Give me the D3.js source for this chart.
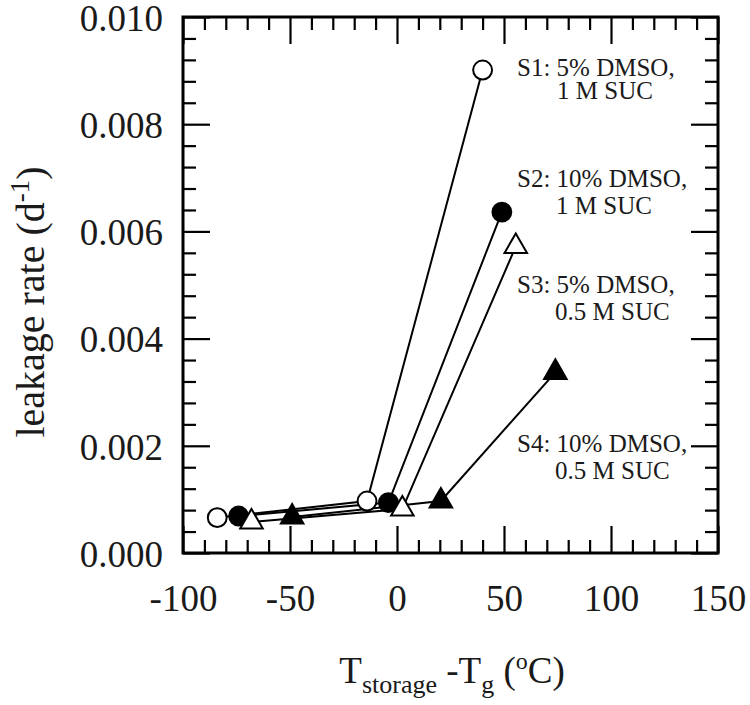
<!DOCTYPE html>
<html>
<head>
<meta charset="utf-8">
<script src="https://cdn.jsdelivr.net/npm/d3@7"></script>
<style>
  html, body { margin: 0; padding: 0; background: #fff; }
  svg { display: block; font-family: "Liberation Serif", "Times New Roman", serif; }
</style>
</head>
<body>
<svg id="chart" width="750" height="705"></svg>
<script>
// ---- data ----
const seriesNames = ["S1", "S2", "S3", "S4"];
const s1X = [-84, -14, 40];
const s1Y = [0.00066, 0.00097, 0.00901];
const s2X = [-74, -4, 49];
const s2Y = [0.00069, 0.00094, 0.00636];
const s3X = [-68, 2.5, 55.5];
const s3Y = [0.00058, 0.00082, 0.00572];
const s4X = [-49, 20.5, 74];
const s4Y = [0.00067, 0.00097, 0.00337];
const labelLine1 = ["S1: 5% DMSO,", "S2: 10% DMSO,", "S3: 5% DMSO,", "S4: 10% DMSO,"];
const labelLine2 = ["1 M SUC", "1 M SUC", "0.5 M SUC", "0.5 M SUC"];
const xMajorTicks = [-100, -50, 0, 50, 100, 150];
const yMajorTicks = [0.000, 0.002, 0.004, 0.006, 0.008, 0.010];

// ---- layout ----
const svg = d3.select("#chart");
const L = 183, R = 718, T = 17, B = 553;
const x = d3.scaleLinear().domain([-100, 150]).range([L, R]);
const y = d3.scaleLinear().domain([0, 0.010]).range([B, T]);

const xMinor = d3.range(-100, 150.001, 10).filter(v => xMajorTicks.indexOf(v) < 0);
const yMinorTicks = d3.range(0, 26).map(i => +(i * 0.0004).toFixed(5)).filter(v => !yMajorTicks.some(m => Math.abs(m - v) < 1e-9));

const major = 27, minor = 13;
const FONT = "Liberation Serif";

function styleAxis(g) {
  g.select(".domain").remove();
  g.selectAll(".tick line").attr("stroke", "#000").attr("stroke-width", 2.2);
}

// bottom major with labels
svg.append("g").attr("transform", `translate(0,${B})`)
  .call(d3.axisBottom(x).tickValues(xMajorTicks).tickSizeInner(-major).tickSizeOuter(0).tickPadding(0).tickFormat(d => String(d)))
  .call(styleAxis)
  .call(g => g.selectAll(".tick text").attr("y", 0).attr("dy", 0).attr("transform", "translate(0,58)")
    .attr("font-size", 37).attr("fill", "#1a1a1a").attr("font-family", FONT));
// bottom minor
svg.append("g").attr("transform", `translate(0,${B})`)
  .call(d3.axisBottom(x).tickValues(xMinor).tickSizeInner(-minor).tickSizeOuter(0).tickFormat(""))
  .call(styleAxis);
// top
svg.append("g").attr("transform", `translate(0,${T})`)
  .call(d3.axisTop(x).tickValues(xMajorTicks).tickSizeInner(-major).tickSizeOuter(0).tickFormat(""))
  .call(styleAxis);
svg.append("g").attr("transform", `translate(0,${T})`)
  .call(d3.axisTop(x).tickValues(xMinor).tickSizeInner(-minor).tickSizeOuter(0).tickFormat(""))
  .call(styleAxis);
// left
svg.append("g").attr("transform", `translate(${L},0)`)
  .call(d3.axisLeft(y).tickValues(yMajorTicks).tickSizeInner(-major).tickSizeOuter(0).tickPadding(0).tickFormat(d3.format(".3f")))
  .call(styleAxis)
  .call(g => g.selectAll(".tick text").attr("x", -20).attr("dy", "0.36em")
    .attr("font-size", 37).attr("fill", "#1a1a1a").attr("font-family", FONT));
svg.append("g").attr("transform", `translate(${L},0)`)
  .call(d3.axisLeft(y).tickValues(yMinorTicks).tickSizeInner(-minor).tickSizeOuter(0).tickFormat(""))
  .call(styleAxis);
// right
svg.append("g").attr("transform", `translate(${R},0)`)
  .call(d3.axisRight(y).tickValues(yMajorTicks).tickSizeInner(-major).tickSizeOuter(0).tickFormat(""))
  .call(styleAxis);
svg.append("g").attr("transform", `translate(${R},0)`)
  .call(d3.axisRight(y).tickValues(yMinorTicks).tickSizeInner(-minor).tickSizeOuter(0).tickFormat(""))
  .call(styleAxis);

// frame
svg.append("rect").attr("x", L).attr("y", T).attr("width", R - L).attr("height", B - T)
  .attr("fill", "none").attr("stroke", "#000").attr("stroke-width", 3);

// ---- series ----
const series = [
  { name: seriesNames[0], xs: s1X, ys: s1Y, shape: "circle", fill: "#fff" },
  { name: seriesNames[1], xs: s2X, ys: s2Y, shape: "circle", fill: "#000" },
  { name: seriesNames[2], xs: s3X, ys: s3Y, shape: "triangle", fill: "#fff" },
  { name: seriesNames[3], xs: s4X, ys: s4Y, shape: "triangle", fill: "#000" }
];
const line = d3.line().x(d => x(d[0])).y(d => y(d[1]));
series.forEach(s => {
  const pts = s.xs.map((v, i) => [v, s.ys[i]]);
  svg.append("path").datum(pts).attr("d", line)
    .attr("fill", "none").attr("stroke", "#000").attr("stroke-width", 2);
});
series.forEach(s => {
  const pts = s.xs.map((v, i) => [v, s.ys[i]]);
  const sym = d3.symbol().type(s.shape === "circle" ? d3.symbolCircle : d3.symbolTriangle)
    .size(s.shape === "circle" ? 280 : 220);
  svg.append("g").selectAll("path").data(pts).join("path")
    .attr("transform", d => `translate(${x(d[0])},${y(d[1])})`)
    .attr("d", sym)
    .attr("fill", s.fill).attr("stroke", "#000").attr("stroke-width", 2);
});

// ---- annotations ----
const labelPos = [[517, 76, 557, 99], [517, 187, 556, 214], [517, 293, 555, 320], [517, 452, 555, 479]];
labelLine1.forEach((t, i) => {
  const p = labelPos[i];
  svg.append("text").attr("x", p[0]).attr("y", p[1]).attr("font-size", 25).attr("fill", "#1a1a1a").text(t);
  svg.append("text").attr("x", p[2]).attr("y", p[3]).attr("font-size", 25).attr("fill", "#1a1a1a").text(labelLine2[i]);
});

// ---- axis titles ----
const yt = svg.append("text").attr("transform", "translate(44,302) rotate(-90)")
  .attr("text-anchor", "middle").attr("font-size", 40).attr("fill", "#1a1a1a");
yt.append("tspan").text("leakage rate (d");
yt.append("tspan").attr("font-size", 27).attr("dy", -15).text("-1");
yt.append("tspan").attr("dy", 15).text(")");

const xt = svg.append("text").attr("x", 452).attr("y", 683)
  .attr("text-anchor", "middle").attr("font-size", 37).attr("fill", "#1a1a1a");
xt.append("tspan").text("T");
xt.append("tspan").attr("font-size", 26).attr("dy", 10).text("storage");
xt.append("tspan").attr("dy", -10).text(" -T");
xt.append("tspan").attr("font-size", 26).attr("dy", 10).text("g");
xt.append("tspan").attr("dy", -10).text(" (");
xt.append("tspan").attr("font-size", 24).attr("dy", -14).text("o");
xt.append("tspan").attr("dy", 14).text("C)");
</script>
</body>
</html>
